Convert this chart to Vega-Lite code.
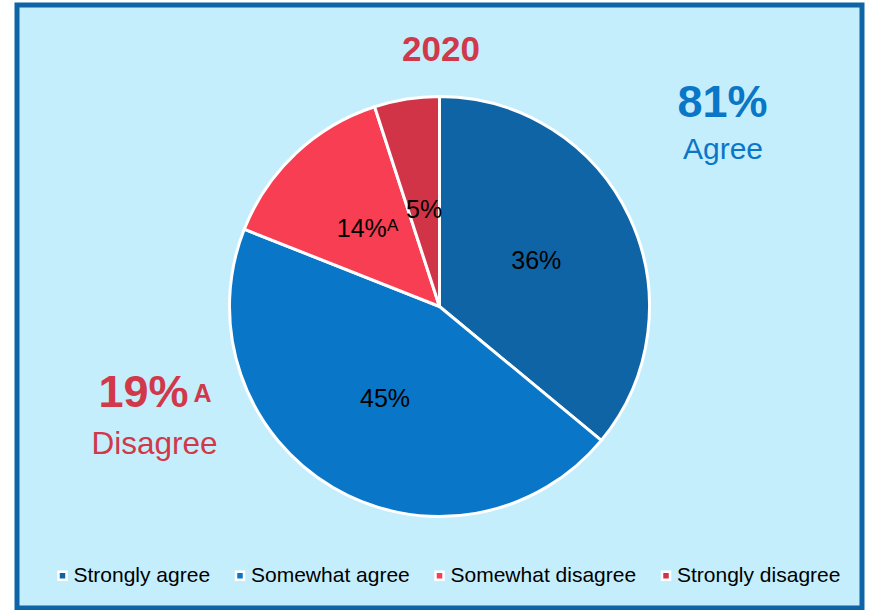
{
  "$schema": "https://vega.github.io/schema/vega-lite/v6.json",
  "autosize": "none",
  "width": 845,
  "height": 603,
  "padding": {"left": 17, "top": 5, "right": 9, "bottom": 2},
  "background": "white",
  "view": {"fill": "#C5EEFD", "stroke": "#0F64A5", "strokeWidth": 5},
  "config": {
    "view": {"fill": "#C5EEFD", "stroke": "#0F64A5", "strokeWidth": 5},
    "font": "Liberation Sans",
    "text": {"font": "Liberation Sans"}
  },
  "datasets": {
    "slices": [
      {"category": "Strongly agree", "value": 36, "rank": 1, "label": "36%"},
      {"category": "Somewhat agree", "value": 45, "rank": 2, "label": "45%"},
      {"category": "Somewhat disagree", "value": 14, "rank": 3, "label": "14%"},
      {"category": "Strongly disagree", "value": 5, "rank": 4, "label": "5%"}
    ],
    "notes": [
      {"key": "title", "text": "2020"},
      {"key": "agreePct", "text": "81%"},
      {"key": "agreeWord", "text": "Agree"},
      {"key": "disPct", "text": "19%"},
      {"key": "disSup", "text": "A"},
      {"key": "disWord", "text": "Disagree"}
    ]
  },
  "layer": [
    {
      "data": {"name": "slices"},
      "mark": {"type": "arc", "outerRadius": 210, "stroke": "white", "strokeWidth": 3},
      "encoding": {
        "theta": {"field": "value", "type": "quantitative", "stack": true},
        "order": {"field": "rank", "type": "ordinal"},
        "color": {
          "field": "category",
          "type": "nominal",
          "scale": {
            "domain": ["Strongly agree", "Somewhat agree", "Somewhat disagree", "Strongly disagree"],
            "range": ["#0F64A5", "#0A76C8", "#F83E52", "#D13447"]
          },
          "legend": {
            "title": null,
            "orient": "none",
            "legendX": 35,
            "legendY": 560,
            "direction": "horizontal",
            "symbolType": "square",
            "symbolSize": 64,
            "symbolStrokeColor": "white",
            "symbolStrokeWidth": 2.5,
            "labelFont": "Liberation Sans",
            "labelFontSize": 21,
            "labelColor": "black",
            "labelOffset": 0.5,
            "labelLimit": 0,
            "columnPadding": 18.5
          }
        }
      }
    },
    {
      "data": {"name": "slices"},
      "mark": {"type": "text", "radius": 107, "fontSize": 25, "color": "black", "align": "center", "baseline": "middle"},
      "encoding": {
        "theta": {"field": "value", "type": "quantitative", "stack": true},
        "order": {"field": "rank", "type": "ordinal"},
        "text": {"condition": {"test": "datum.rank <= 2", "field": "label"}, "value": ""}
      }
    },
    {
      "data": {"name": "slices"},
      "mark": {"type": "text", "radius": 107, "dx": -4.5, "fontSize": 25, "color": "black", "align": "center", "baseline": "middle"},
      "encoding": {
        "theta": {"field": "value", "type": "quantitative", "stack": true},
        "order": {"field": "rank", "type": "ordinal"},
        "text": {"condition": {"test": "datum.rank == 3", "field": "label"}, "value": ""}
      }
    },
    {
      "data": {"name": "slices"},
      "mark": {"type": "text", "radius": 107, "dx": 26.5, "dy": -3, "fontSize": 17, "color": "black", "align": "center", "baseline": "middle"},
      "encoding": {
        "theta": {"field": "value", "type": "quantitative", "stack": true},
        "order": {"field": "rank", "type": "ordinal"},
        "text": {"condition": {"test": "datum.rank == 3", "value": "A"}, "value": ""}
      }
    },
    {
      "data": {"name": "slices"},
      "mark": {"type": "text", "radius": 98, "fontSize": 25, "color": "black", "align": "center", "baseline": "middle"},
      "encoding": {
        "theta": {"field": "value", "type": "quantitative", "stack": true},
        "order": {"field": "rank", "type": "ordinal"},
        "text": {"condition": {"test": "datum.rank == 4", "field": "label"}, "value": ""}
      }
    },
    {
      "data": {"name": "notes"},
      "transform": [{"filter": "datum.key == 'title'"}],
      "mark": {"type": "text", "dx": 1.5, "dy": -246, "fontSize": 35, "fontWeight": "bold", "color": "#D1384A", "align": "center", "baseline": "alphabetic"},
      "encoding": {"text": {"field": "text"}}
    },
    {
      "data": {"name": "notes"},
      "transform": [{"filter": "datum.key == 'agreePct'"}],
      "mark": {"type": "text", "dx": 283, "dy": -189.5, "fontSize": 45, "fontWeight": "bold", "color": "#0A76C8", "align": "center", "baseline": "alphabetic"},
      "encoding": {"text": {"field": "text"}}
    },
    {
      "data": {"name": "notes"},
      "transform": [{"filter": "datum.key == 'agreeWord'"}],
      "mark": {"type": "text", "dx": 283.5, "dy": -147.5, "fontSize": 30, "color": "#0A76C8", "align": "center", "baseline": "alphabetic"},
      "encoding": {"text": {"field": "text"}}
    },
    {
      "data": {"name": "notes"},
      "transform": [{"filter": "datum.key == 'disPct'"}],
      "mark": {"type": "text", "dx": -296, "dy": 100.5, "fontSize": 45, "fontWeight": "bold", "color": "#D1384A", "align": "center", "baseline": "alphabetic"},
      "encoding": {"text": {"field": "text"}}
    },
    {
      "data": {"name": "notes"},
      "transform": [{"filter": "datum.key == 'disSup'"}],
      "mark": {"type": "text", "dx": -237, "dy": 95.5, "fontSize": 25, "fontWeight": "bold", "color": "#D1384A", "align": "center", "baseline": "alphabetic"},
      "encoding": {"text": {"field": "text"}}
    },
    {
      "data": {"name": "notes"},
      "transform": [{"filter": "datum.key == 'disWord'"}],
      "mark": {"type": "text", "dx": -285, "dy": 147.5, "fontSize": 31.5, "color": "#D1384A", "align": "center", "baseline": "alphabetic"},
      "encoding": {"text": {"field": "text"}}
    }
  ]
}
